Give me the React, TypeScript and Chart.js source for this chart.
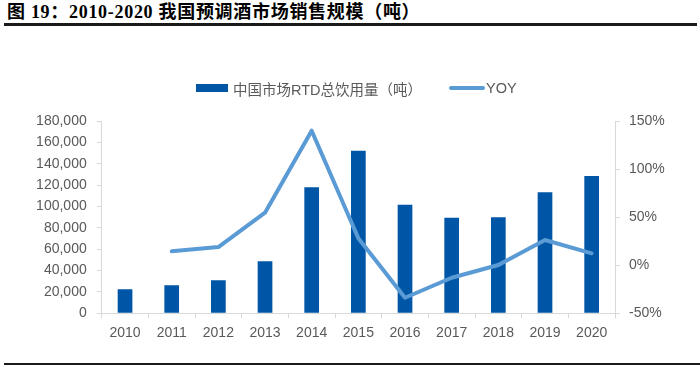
import React, { useEffect, useRef } from "react";
import { Chart, registerables } from "chart.js";

Chart.register(...registerables);

const years = ["2010", "2011", "2012", "2013", "2014", "2015", "2016", "2017", "2018", "2019", "2020"];
const volume = [22500, 26200, 30900, 48700, 117900, 152200, 101700, 89500, 89900, 113300, 128500];
const yoy = [null, 0.145, 0.189, 0.546, 1.399, 0.28, -0.338, -0.13, 0.002, 0.262, 0.124];
const barLabel = "中国市场RTD总饮用量（吨）";
const lineLabel = "YOY";
const titleText = "图 19：2010-2020 我国预调酒市场销售规模（吨）";

const BAR_COLOR = "#0056A6";
const LINE_COLOR = "#5B9BD5";
const AXIS_COLOR = "#D9D9D9";
const TEXT_COLOR = "#595959";
const FONT = "'Liberation Sans', Arial, sans-serif";

export default function App() {
  const ref = useRef<HTMLCanvasElement | null>(null);

  useEffect(() => {
    if (!ref.current) return;
    const chart = new Chart(ref.current, {
      type: "bar",
      data: {
        labels: years,
        datasets: [
          {
            type: "line",
            label: lineLabel,
            data: yoy as any,
            yAxisID: "y1",
            borderColor: LINE_COLOR,
            backgroundColor: LINE_COLOR,
            borderWidth: 4,
            pointRadius: 0,
            borderJoinStyle: "round",
            borderCapStyle: "round",
            tension: 0,
            order: 0,
          } as any,
          {
            type: "bar",
            label: barLabel,
            data: volume,
            yAxisID: "y",
            backgroundColor: BAR_COLOR,
            borderWidth: 0,
            categoryPercentage: 1,
            barPercentage: 0.315,
            order: 1,
          },
        ],
      },
      options: {
        responsive: false,
        animation: false,
        layout: { padding: { top: 121, left: 0, right: 0, bottom: 0 } },
        plugins: {
          legend: { display: false },
          tooltip: { enabled: false },
          title: { display: false },
        },
        scales: {
          x: {
            offset: true,
            grid: {
              offset: true,
              drawOnChartArea: false,
              drawTicks: true,
              tickLength: 5,
              color: AXIS_COLOR,
            },
            border: { display: true, color: AXIS_COLOR, width: 1 },
            ticks: {
              color: TEXT_COLOR,
              font: { family: FONT, size: 14 },
              padding: 6,
              maxRotation: 0,
            },
            afterFit: (s: any) => {
              s.height = 53.7;
            },
          },
          y: {
            position: "left",
            min: 0,
            max: 180000,
            grid: {
              drawOnChartArea: false,
              drawTicks: true,
              tickLength: 5,
              color: AXIS_COLOR,
            },
            border: { display: true, color: AXIS_COLOR, width: 1 },
            ticks: {
              stepSize: 20000,
              color: TEXT_COLOR,
              font: { family: FONT, size: 14 },
              padding: 10,
              callback: (v: any) => Number(v).toLocaleString("en-US"),
            },
            afterFit: (s: any) => {
              s.width = 101.7;
            },
          },
          y1: {
            position: "right",
            min: -0.5,
            max: 1.5,
            grid: {
              drawOnChartArea: false,
              drawTicks: true,
              tickLength: 5,
              color: AXIS_COLOR,
            },
            border: { display: true, color: AXIS_COLOR, width: 1 },
            ticks: {
              stepSize: 0.5,
              color: TEXT_COLOR,
              font: { family: FONT, size: 14 },
              padding: 9,
              callback: (v: any) => Math.round(Number(v) * 100) + "%",
            },
            afterFit: (s: any) => {
              s.width = 85;
            },
          },
        },
      },
    });
    return () => chart.destroy();
  }, []);

  return (
    <div
      style={{
        position: "fixed",
        left: 0,
        top: 0,
        width: 700,
        height: 367,
        background: "#fff",
        overflow: "hidden",
      }}
    >
      <div
        style={{
          position: "absolute",
          left: 7,
          top: 2,
          fontFamily: "'Liberation Serif', 'Times New Roman', 'Noto Sans CJK SC', serif",
          fontWeight: "bold",
          fontSize: 18,
          lineHeight: "20px",
          letterSpacing: "0.7px",
          color: "#000",
          whiteSpace: "nowrap",
        }}
      >
        {titleText}
      </div>
      <div
        style={{
          position: "absolute",
          left: 4,
          top: 23,
          width: 693,
          height: 2.5,
          background: "#1a1a1a",
        }}
      />
      <canvas
        ref={ref}
        width={700}
        height={367}
        style={{ position: "absolute", left: 0, top: 0, width: 700, height: 367 }}
      />
      <div
        style={{
          position: "absolute",
          left: 196,
          top: 78,
          height: 20,
          display: "flex",
          alignItems: "center",
          fontFamily: FONT + ", 'Noto Sans CJK SC'",
          fontSize: 14.5,
          color: TEXT_COLOR,
          whiteSpace: "nowrap",
        }}
      >
        <span style={{ display: "inline-block", width: 32, height: 8, background: BAR_COLOR, marginRight: 5 }} />
        <span>{barLabel}</span>
        <span
          style={{
            display: "inline-block",
            width: 36,
            height: 4,
            borderRadius: 2,
            background: LINE_COLOR,
            marginLeft: 27,
            marginRight: 1,
          }}
        />
        <span>{lineLabel}</span>
      </div>
      <div
        style={{
          position: "absolute",
          left: 4,
          top: 362.5,
          width: 696,
          height: 2.5,
          background: "#1a1a1a",
        }}
      />
    </div>
  );
}
